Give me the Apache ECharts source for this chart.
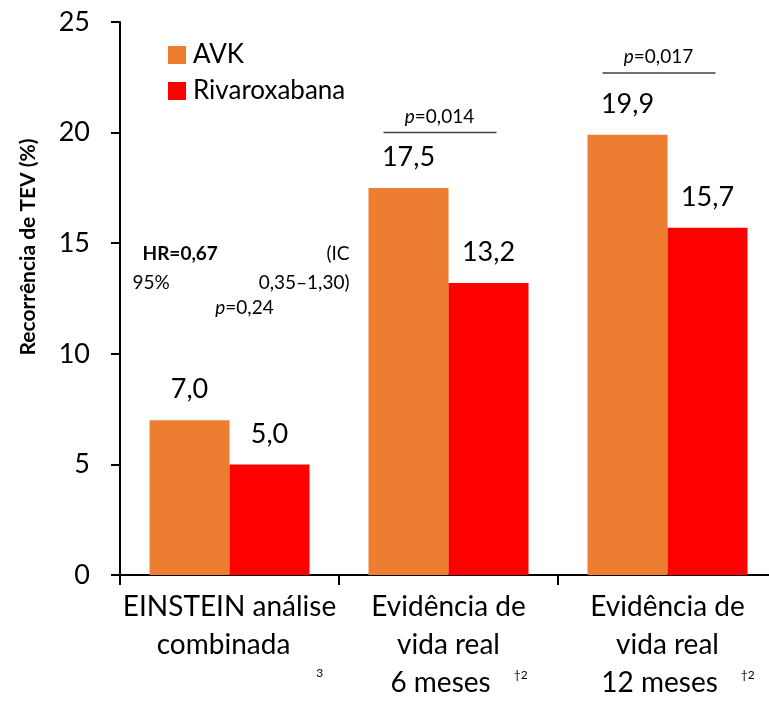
<!DOCTYPE html>
<html>
<head>
<meta charset="utf-8">
<script src="https://cdn.jsdelivr.net/npm/echarts@6/dist/echarts.min.js"></script>
<style>
  html, body { margin: 0; padding: 0; background: #fff; overflow: hidden; }
  /* the plot area runs a little past the right edge of the window */
  #chart { width: 780px; height: 704px; }
</style>
</head>
<body>
<div id="chart"></div>
<script>
// Category labels (multi-line) and their footnote markers
const categories = ['EINSTEIN análise\ncombinada', 'Evidência de\nvida real\n6 meses', 'Evidência de\nvida real\n12 meses'];
const footnotes = ['3', '†2', '†2'];
const footnoteKind = ['sub', 'sup', 'sup'];

// Recurrence of VTE (%)
const seriesNames = ['AVK', 'Rivaroxabana'];
const avkValues = [7.0, 17.5, 19.9];
const rivaValues = [5.0, 13.2, 15.7];

// Y axis scale
const yMin = 0;
const yMax = 25;
const yStep = 5;

// p-value brackets above the real-world groups
const pCategories = [1, 2];
const pTexts = ['0,014', '0,017'];
const pLineLevels = [20.0, 22.7];

// Hazard-ratio note for the pooled EINSTEIN analysis
const hrCategory = 0;
const hrLevels = [14.5, 13.2, 12.07];

const FONT = 'Lato, "Open Sans", sans-serif';
const ORANGE = '#ED7D31';
const RED = '#FF0000';

const chart = echarts.init(document.getElementById('chart'), null, { renderer: 'canvas' });

function fmt(v) { return v.toFixed(1).replace('.', ','); }

const valueLabel = {
  show: true,
  position: 'top',
  distance: 17,
  fontFamily: FONT,
  fontSize: 27,
  color: '#000',
  formatter: p => fmt(p.value)
};

chart.setOption({
  animation: false,
  backgroundColor: '#fff',
  textStyle: { fontFamily: FONT },
  grid: { left: 120, top: 22, bottom: 129, width: 657, containLabel: false },
  legend: {
    data: seriesNames,
    orient: 'vertical',
    left: 163,
    top: 37,
    icon: 'rect',
    itemWidth: 18,
    itemHeight: 18,
    itemGap: 10,
    textStyle: { fontFamily: FONT, fontSize: 26, color: '#000', padding: [0, 0, 0, 2] }
  },
  xAxis: {
    type: 'category',
    data: categories,
    axisLine: { lineStyle: { color: '#000', width: 2 } },
    axisTick: { show: true, alignWithLabel: false, length: 10, lineStyle: { color: '#000', width: 2 } },
    axisLabel: {
      interval: 0,
      margin: 18,
      color: '#000',
      formatter: (value, idx) => {
        const lines = value.split('\n');
        const last = lines.length - 1;
        // the last line carries the footnote marker, balanced by a left pad
        const parts = lines.map((l, i) => (i === last ? '{mL|' : '{m|') + l + '}');
        parts[last] += '{' + footnoteKind[idx] + '|' + footnotes[idx] + '}';
        return parts.join('\n');
      },
      rich: {
        m: { fontFamily: FONT, fontSize: 28, lineHeight: 38, color: '#000', verticalAlign: 'top' },
        mL: { fontFamily: FONT, fontSize: 28, lineHeight: 38, color: '#000', verticalAlign: 'top', padding: [0, 0, 0, 21] },
        sub: { fontFamily: FONT, fontSize: 12, lineHeight: 14, color: '#000', verticalAlign: 'top', padding: [36, 0, 0, 26] },
        sup: { fontFamily: FONT, fontSize: 12, lineHeight: 14, color: '#000', verticalAlign: 'top', padding: [0, 0, 0, 23] }
      }
    }
  },
  yAxis: {
    type: 'value',
    min: yMin,
    max: yMax,
    interval: yStep,
    splitLine: { show: false },
    axisLine: { show: true, lineStyle: { color: '#000', width: 2 } },
    axisTick: { show: true, length: 9, lineStyle: { color: '#000', width: 2 } },
    axisLabel: { fontFamily: FONT, fontSize: 27, color: '#000', margin: 30 }
  },
  series: [
    {
      name: seriesNames[0],
      type: 'bar',
      data: avkValues,
      barWidth: 80,
      barGap: '0%',
      itemStyle: { color: ORANGE },
      label: valueLabel
    },
    {
      name: seriesNames[1],
      type: 'bar',
      data: rivaValues,
      barWidth: 80,
      barGap: '0%',
      itemStyle: { color: RED },
      label: valueLabel
    }
  ]
});

// Annotations placed through the chart's own coordinate system
const toPx = (cat, val) => chart.convertToPixel({ xAxisIndex: 0, yAxisIndex: 0 }, [cat, val]);
const graphics = [];

// y-axis title
graphics.push({
  type: 'text',
  x: 28, y: 247,
  rotation: Math.PI / 2,
  style: {
    text: 'Recorrência de TEV (%)',
    fontFamily: FONT, fontSize: 21, fontWeight: 'bold', fill: '#000',
    align: 'center', verticalAlign: 'middle'
  }
});

// p-value brackets
pCategories.forEach((c, i) => {
  const [cx, ly] = toPx(c, pLineLevels[i]);
  graphics.push({
    type: 'line',
    shape: { x1: cx - 65, y1: ly, x2: cx + 48, y2: ly },
    style: { stroke: '#404040', lineWidth: 1.5 }
  });
  graphics.push({
    type: 'text',
    x: cx - 9, y: ly - 16,
    style: {
      text: '{i|p}=' + pTexts[i],
      fontFamily: FONT, fontSize: 19, fill: '#000',
      align: 'center', verticalAlign: 'middle',
      rich: { i: { fontFamily: FONT, fontSize: 19, fontStyle: 'italic', fill: '#000' } }
    }
  });
});

// HR block
const [hx, hy0] = toPx(hrCategory, hrLevels[0]);
const hy1 = toPx(hrCategory, hrLevels[1])[1];
const hy2 = toPx(hrCategory, hrLevels[2])[1];
const hrText = (x, y, text, align, bold) => ({
  type: 'text', x, y,
  style: {
    text, fontFamily: FONT, fontSize: 19, fontWeight: bold ? 'bold' : 'normal', fill: '#000',
    align, verticalAlign: 'middle',
    rich: { i: { fontFamily: FONT, fontSize: 19, fontStyle: 'italic', fill: '#000' } }
  }
});
graphics.push(hrText(hx - 87, hy0, 'HR=0,67', 'left', true));
graphics.push(hrText(hx + 120, hy0, '(IC', 'right', false));
graphics.push(hrText(hx - 97, hy1, '95%', 'left', false));
graphics.push(hrText(hx + 120, hy1, '0,35–1,30)', 'right', false));
graphics.push(hrText(hx + 15, hy2, '{i|p}=0,24', 'center', false));

chart.setOption({ graphic: graphics });
</script>
</body>
</html>
